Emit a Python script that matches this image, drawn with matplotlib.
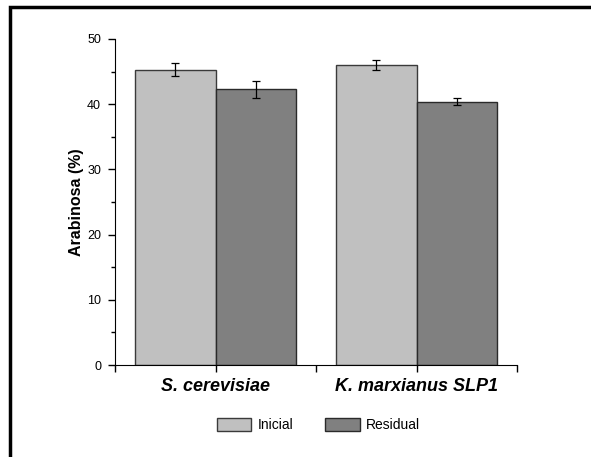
import matplotlib as mpl
mpl.use('Agg')
import matplotlib.pyplot as plt
from matplotlib.patches import Rectangle
from matplotlib.ticker import MultipleLocator

plt.rcParams['font.family'] = ['Liberation Sans', 'DejaVu Sans']

strains = ['S. cerevisiae', 'K. marxianus SLP1']
inicial = [45.3, 46.0]
inicial_err = [0.95, 0.8]
residual = [42.3, 40.4]
residual_err = [1.3, 0.5]

fig = plt.figure(figsize=(5.91, 4.57), dpi=100)
ax = fig.add_axes([0.1946, 0.2013, 0.6802, 0.7134])

pos = [1, 3]
w = 0.8
ebar = dict(ecolor='black', capsize=3, elinewidth=0.9, capthick=0.9)
ax.bar([p - w / 2 for p in pos], inicial, w, yerr=inicial_err, color='#c0c0c0',
       edgecolor='#3a3a3a', linewidth=1, label='Inicial', error_kw=ebar)
ax.bar([p + w / 2 for p in pos], residual, w, yerr=residual_err, color='#808080',
       edgecolor='#2a2a2a', linewidth=1, label='Residual', error_kw=ebar)

ax.set_xlim(0, 4)
ax.set_ylim(0, 50)
ax.set_xticks([0, 1, 2, 3, 4])
ax.set_xticklabels(['', strains[0], '', strains[1], ''],
                   fontsize=13, fontweight='bold', fontstyle='italic')
ax.yaxis.set_major_locator(MultipleLocator(10))
ax.yaxis.set_minor_locator(MultipleLocator(5))
ax.tick_params(axis='y', labelsize=9, length=5, width=1, pad=5)
ax.tick_params(axis='y', which='minor', length=3, width=1)
ax.tick_params(axis='x', length=5, width=1, pad=4)
ax.spines['top'].set_visible(False)
ax.spines['right'].set_visible(False)
ax.set_ylabel('Arabinosa (%)', fontsize=11.5, fontweight='bold', labelpad=2)

fig.legend(loc='center left', bbox_to_anchor=(204 / 591, 0.07), ncol=2, frameon=False,
           fontsize=10, handlelength=2.5, handleheight=1.1, columnspacing=2.3,
           handletextpad=0.45)

# frame around the figure (right and bottom edges fall outside)
fig.patches.append(Rectangle((10 / 591, -0.1), 1.5, 1 - 7 / 457 + 0.1,
                             transform=fig.transFigure, fill=False,
                             edgecolor='black', linewidth=2.5))

fig.savefig('out.png', dpi=100)
